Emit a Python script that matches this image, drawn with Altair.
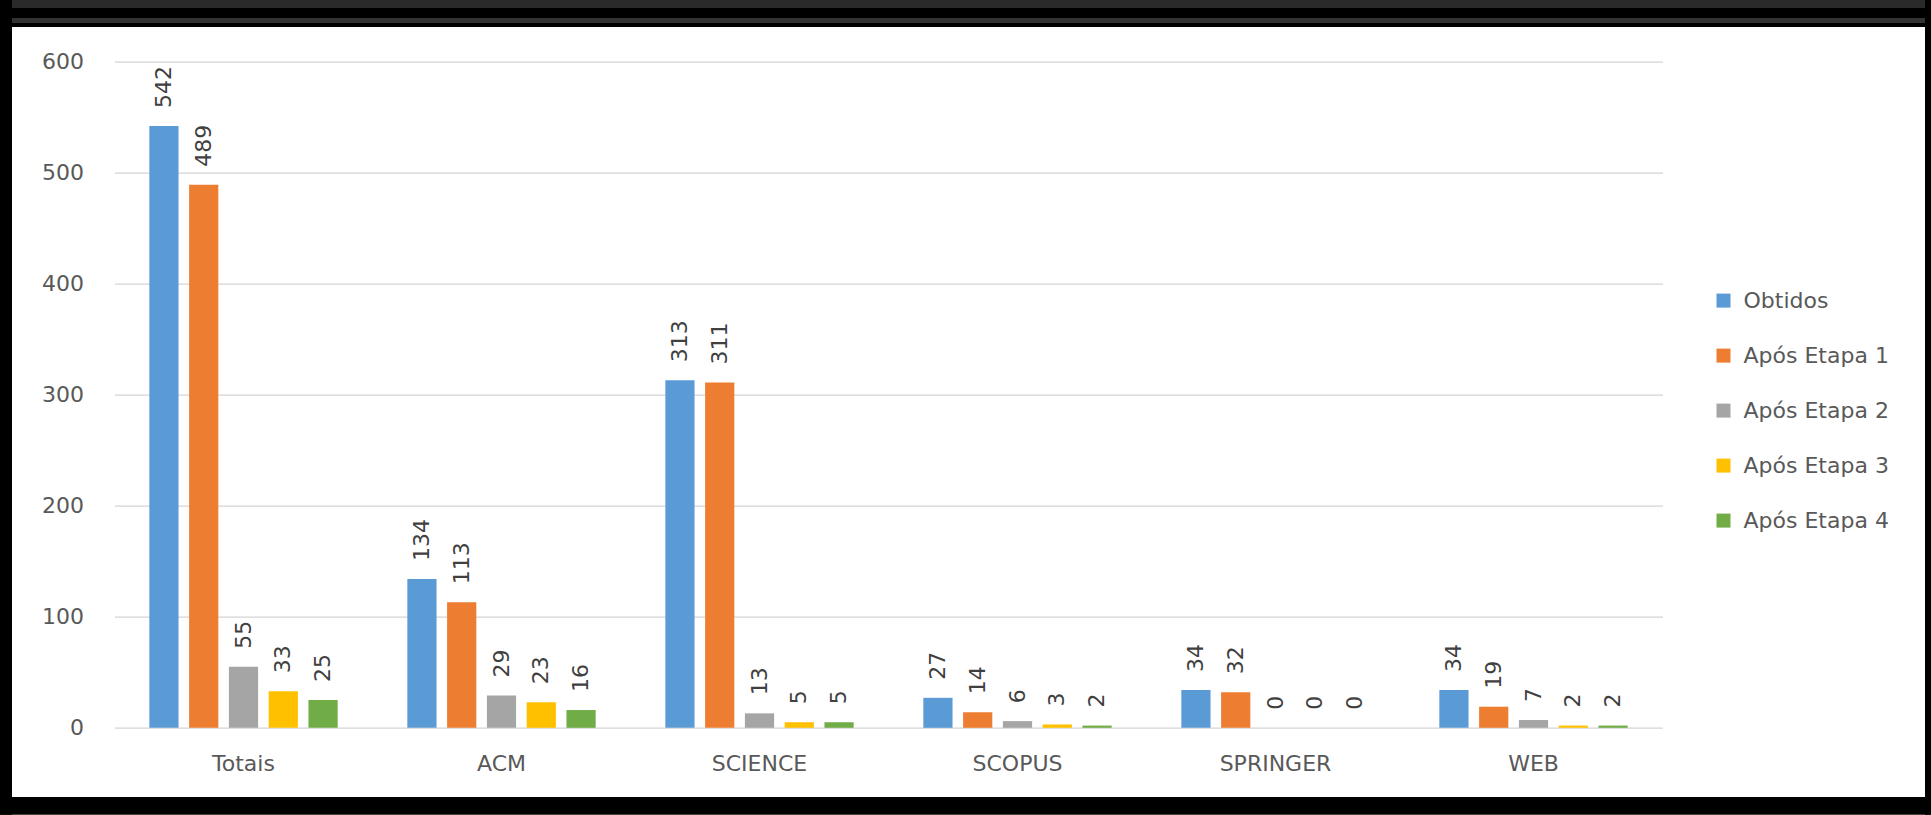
import altair as alt
import pandas as pd

categories = ["Totais", "ACM", "SCIENCE", "SCOPUS", "SPRINGER", "WEB"]
series = ["Obtidos", "Após Etapa 1", "Após Etapa 2", "Após Etapa 3", "Após Etapa 4"]
obtidos = [542, 134, 313, 27, 34, 34]
etapa1 = [489, 113, 311, 14, 32, 19]
etapa2 = [55, 29, 13, 6, 0, 7]
etapa3 = [33, 23, 5, 3, 0, 2]
etapa4 = [25, 16, 5, 2, 0, 2]
colors = ["#5B9BD5", "#ED7D31", "#A5A5A5", "#FFC000", "#70AD47"]
y_ticks = [0, 100, 200, 300, 400, 500, 600]

rows = []
for s, vals in zip(series, [obtidos, etapa1, etapa2, etapa3, etapa4]):
    for c, v in zip(categories, vals):
        rows.append({"Categoria": c, "Serie": s, "Valor": v})
df = pd.DataFrame(rows)

FONT = "DejaVu Sans"
TXT = "#595959"

x_enc = alt.X("Categoria:N", sort=categories,
              scale=alt.Scale(paddingInner=0.27, paddingOuter=0.135),
              axis=alt.Axis(title=None, labelAngle=0, domain=False, ticks=False,
                            labelPadding=26, labelFontSize=22, labelFont=FONT,
                            labelColor=TXT, grid=False))
xo_enc = alt.XOffset("Serie:N", sort=series,
                     scale=alt.Scale(paddingInner=0.266, paddingOuter=0))
y_enc = alt.Y("Valor:Q", scale=alt.Scale(domain=[0, 600], nice=False),
              axis=alt.Axis(title=None, values=y_ticks, grid=True, gridColor="#D4D4D4",
                            gridWidth=1.3, domain=False, ticks=False, labelPadding=31,
                            labelFontSize=22, labelFont=FONT, labelColor=TXT))

frame_df = pd.DataFrame({"k": [0]})


def band(x1, x2, y1, y2, color):
    return alt.Chart(frame_df).mark_rect(color=color).encode(
        x=alt.value(x1), x2=alt.value(x2), y=alt.value(y1), y2=alt.value(y2))


# dark frame around the white panel (pixel offsets relative to the plot area)
frames = [
    band(-114.5, 1816.5, -61.6, -34.6, "#000000"),   # top black
    band(-114.5, 1816.5, -61.6, -53.6, "#2A2A2A"),   # top dark-grey strip
    band(-108.5, 1814.5, -43.6, -38.6, "#333333"),   # inner edge line
    band(-114.5, -102.5, -61.6, 753.2, "#000000"),   # left
    band(1810.5, 1816.5, -61.6, 753.2, "#000000"),   # right
    band(-114.5, 1816.5, 735.4, 753.2, "#000000"),   # bottom
]

bars = alt.Chart(df).mark_bar().encode(
    x=x_enc, xOffset=xo_enc, y=y_enc,
    color=alt.Color("Serie:N", sort=series,
                    scale=alt.Scale(domain=series, range=colors),
                    legend=alt.Legend(orient="none", legendX=1598, legendY=228, title=None,
                                      symbolType="square", symbolSize=196,
                                      symbolStrokeWidth=0, symbolOpacity=1,
                                      labelFontSize=22, labelFont=FONT, labelColor=TXT,
                                      rowPadding=33, labelOffset=9, padding=0)))

labels = alt.Chart(df).mark_text(angle=270, align="left", baseline="middle", dx=18,
                                 fontSize=22, font=FONT, color="#404040").encode(
    x=alt.X("Categoria:N", sort=categories), xOffset=alt.XOffset("Serie:N", sort=series),
    y=alt.Y("Valor:Q"), text=alt.Text("Valor:Q"))

chart = alt.layer(*frames, bars, labels).properties(
    width=1548, height=666.2,
    padding={"left": 114.5, "top": 61.6, "right": 268.5, "bottom": 87.2},
    autosize=alt.AutoSizeParams(type="none"),
    background="#FFFFFF",
).configure_view(stroke=None)

chart.save("out.html", embed_options={"renderer": "svg", "actions": False})
